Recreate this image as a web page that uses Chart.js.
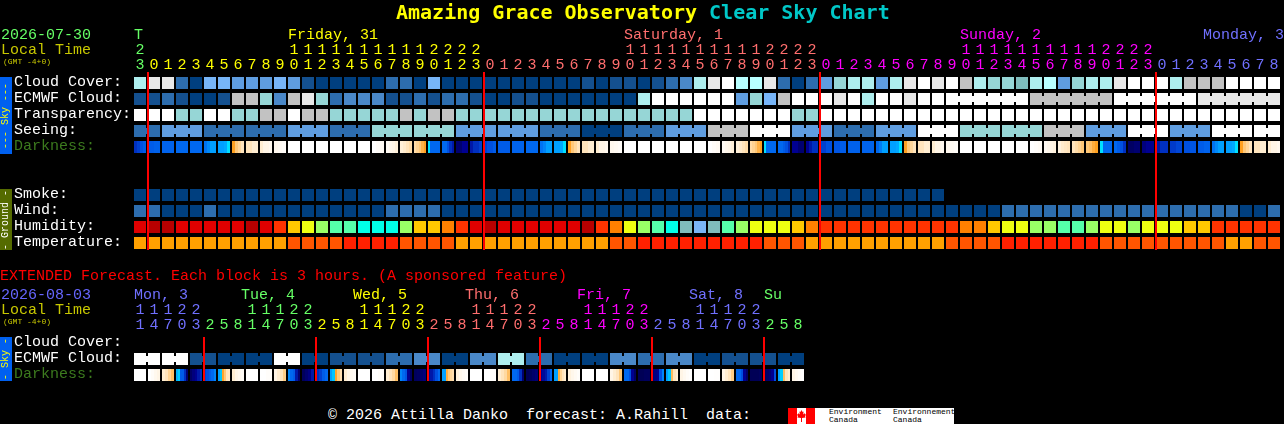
<!DOCTYPE html>
<html>
<head>
<meta charset="utf-8">
<title>Amazing Grace Observatory Clear Sky Chart</title>
<script src="https://cdn.jsdelivr.net/npm/chart.js@4"></script>
<style>
  html, body { margin: 0; padding: 0; background: #000; }
  body { width: 1284px; height: 424px; position: relative; overflow: hidden; }
  body, .t { font-family: "Liberation Mono", monospace; font-size: 15px; }
  canvas { position: absolute; left: 0; }
  #main { top: 0; }
  #ext { top: 270px; }
  .t { position: absolute; white-space: pre; line-height: 16px; }
  .side { position: absolute; left: 0; width: 12px; }
  .side span { position: absolute; left: 6px; top: 50%; transform: translate(-50%, -50%) rotate(-90deg); font-size: 10px; line-height: 10px; white-space: pre; }
</style>
</head>
<body>
<canvas id="main" width="1284" height="254"></canvas>
<canvas id="ext" width="1284" height="115"></canvas>

<div class="t" id="title" style="left:396px;top:0px;font-family:'DejaVu Sans Mono';font-size:20px;line-height:24px;font-weight:bold;color:#ffff00">Amazing Grace Observatory <span style="color:#00c8c8">Clear Sky Chart</span></div>
<div class="t" style="left:1px;top:28px;color:#66ff66">2026-07-30</div>
<div class="t" style="left:1px;top:43px;color:#c8c800">Local Time</div>
<div class="t" style="left:3px;top:57px;font-size:8px;line-height:10px;color:#c8c800">(GMT -4+0)</div>
<div class="side" style="top:77px;height:77px;background:#0060f0;color:#ffff00"><span>--- Sky ---</span></div>
<div class="side" style="top:189px;height:61px;background:#556b00;color:#ffffff"><span>- Ground -</span></div>
<div class="t" style="left:0;top:269px;color:#ff0000">EXTENDED Forecast. Each block is 3 hours. (A sponsored feature)</div>
<div class="t" style="left:1px;top:288px;color:#6666ff">2026-08-03</div>
<div class="t" style="left:1px;top:303px;color:#c8c800">Local Time</div>
<div class="t" style="left:3px;top:317px;font-size:8px;line-height:10px;color:#c8c800">(GMT -4+0)</div>
<div class="side" style="top:337px;height:44px;background:#0060f0;color:#ffff00"><span>- Sky -</span></div>
<div class="t" style="left:328px;top:408px;color:#ffffff">© 2026 Attilla Danko  forecast: A.Rahill  data:</div>
<div style="position:absolute;left:788px;top:408px;width:166px;height:16px;background:#fff">
  <div style="position:absolute;left:0;top:0;width:9px;height:16px;background:#f00"></div>
  <div style="position:absolute;left:18px;top:0;width:9px;height:16px;background:#f00"></div>
  <svg style="position:absolute;left:9px;top:2px" width="9" height="12" viewBox="0 0 9 12"><path fill="#f00" d="M4.5 0 L5.6 2 L6.6 1.6 L6.2 4.4 L7.6 3.2 L9 5 L8 6 L8.6 7.4 L5 8 L5 12 L4 12 L4 8 L0.4 7.4 L1 6 L0 5 L1.4 3.2 L2.8 4.4 L2.4 1.6 L3.4 2 Z"/></svg>
  <div class="t" style="left:41px;top:0;font-size:8px;line-height:8px;color:#000">Environment
Canada</div>
  <div class="t" style="left:105px;top:0;font-size:8px;line-height:8px;color:#000">Environnement
Canada</div>
</div>

<script>
// hour of each column, hourly chart then the 3 hourly one
var hours = ["23","0","1","2","3","4","5","6","7","8","9","10","11","12","13","14","15","16","17","18","19","20","21","22","23",
  "0","1","2","3","4","5","6","7","8","9","10","11","12","13","14","15","16","17","18","19","20","21","22","23",
  "0","1","2","3","4","5","6","7","8","9","10","11","12","13","14","15","16","17","18","19","20","21","22","23",
  "0","1","2","3","4","5","6","7","8"];
var extHours = ["11","14","17","20","23",
  "2","5","8","11","14","17","20","23",
  "2","5","8","11","14","17","20","23",
  "2","5","8","11","14","17","20","23",
  "2","5","8","11","14","17","20","23",
  "2","5","8","11","14","17","20","23",
  "2","5","8"];

var rowNames = ["Cloud Cover:","ECMWF Cloud:","Transparency:","Seeing:","Darkness:","","","Smoke:","Wind:","Humidity:","Temperature:"];
var extRowNames = ["Cloud Cover:","ECMWF Cloud:","Darkness:"];
var dayNames = ["T","Friday, 31","Saturday, 1","Sunday, 2","Monday, 3"];
var extDayNames = ["Mon, 3","Tue, 4","Wed, 5","Thu, 6","Fri, 7","Sat, 8","Su"];

// colour class of each block, see skyColors
var cloudCover = [8,11,11,2,0,5,5,4,4,4,5,4,1,0,0,0,0,0,2,2,0,5,0,0,0,0,0,0,0,0,0,0,1,0,1,1,0,1,2,3,8,11,12,9,9,11,2,0,2,4,7,8,8,4,8,11,12,11,12,10,8,7,7,6,8,9,4,7,8,8,11,12,12,12,8,10,10,10,12,12,12,12];
var ecmwfCloud = [1,1,2,1,0,0,1,10,10,7,3,10,11,7,2,3,3,3,1,1,2,1,2,2,1,0,0,1,1,0,0,0,0,0,0,0,8,12,12,12,12,12,12,4,7,5,10,12,12,12,11,12,8,12,12,11,12,12,12,12,12,12,12,12,10,10,10,10,10,10,12,12,12,12,12,12,11,11,11,11,11,11];
var transparency = [12,12,12,7,7,12,12,7,7,10,10,12,10,10,7,7,7,7,7,10,7,10,10,7,7,7,7,7,7,7,7,7,7,7,7,7,7,7,7,7,12,12,12,12,12,12,12,7,7,12,12,12,12,12,12,12,12,12,12,12,12,12,12,12,12,12,12,12,12,12,12,12,12,12,12,12,12,12,12,12,12,12];
var seeing = [2,2,4,4,4,2,2,2,2,2,2,4,4,4,2,2,2,7,7,7,7,7,7,4,4,4,4,4,4,2,2,2,0,0,0,2,2,2,4,4,4,10,10,10,12,12,12,4,4,4,2,2,2,4,4,4,12,12,12,7,7,7,7,7,7,10,10,10,4,4,4,12,12,12,4,4,4,12,12,12,12,12];
var smoke = [0,0,0,0,0,0,0,0,0,0,0,0,0,0,0,0,0,0,0,0,0,0,0,0,0,0,0,0,0,0,0,0,0,0,0,0,0,0,0,0,0,0,0,0,0,0,0,0,0,0,0,0,0,0,0,0,0,0];
var wind = [2,2,0,0,0,2,0,0,0,0,0,0,0,0,0,0,0,0,2,2,2,2,0,0,0,0,0,0,0,0,0,0,0,0,0,0,0,0,0,0,0,0,0,0,0,0,0,0,0,0,0,0,0,0,0,0,0,0,0,0,0,0,2,2,2,2,2,2,2,2,2,2,2,2,2,2,2,2,2,0,0,2];
var humidity = [1,0,0,1,1,1,1,1,0,1,2,4,5,6,7,7,8,8,8,6,4,4,3,2,1,0,1,1,1,1,1,1,0,2,3,5,6,7,8,9,10,9,7,6,5,5,5,4,3,2,2,2,2,2,2,2,2,2,2,3,3,4,5,5,6,6,7,7,6,5,5,6,5,5,5,4,4,2,2,2,2,2];
var temperature = [0,0,0,0,0,0,0,0,0,0,0,1,1,1,1,2,2,2,2,1,1,1,1,0,0,0,0,0,0,0,0,0,0,0,1,1,2,2,2,2,2,2,2,2,2,1,1,1,0,0,0,0,0,0,0,0,0,0,1,1,1,1,2,2,2,2,2,2,2,1,1,1,1,1,1,1,1,1,0,0,1,1];
// darkness readings across each block, 0 is daylight and 10 is full night
var darkness = [[8,7.5,7,6.5],[6.5,6.3],[6.2],[6],[6],[5.8,5.4,5,5],[5,5,4.9,4.3],[3.9,3,2.5,2],[2,2,1.5,1.5],[1.5,1,1,0.7],[0.7,0.5,0.3],[0],[0],[0],[0],[0],[0],[0,0.3,0.5],[0.5,0.8,1,1.3],[1.3,1.6,2,2.3],[2.3,2.6,3,3.5,3.9],
  [4.3,6,6,6,6],[6,6,7,8,8.5],[9.5,9.5,9,9],[8.5,8,8,7.5],[7.5,7,7,6.5],[6.5,6.5],[6.2],[6],[5.8,5.5,5,5],[5,5,4.9,4.3],[3.9,3,2.5,2],[2,2,1.5,1.5],[1.5,1,1,0.7],[0.7,0.5,0.3],[0],[0],[0],[0],[0],[0],[0,0.3,0.5],[0.5,0.8,1,1.3],[1.3,1.6,2,2.3],[2.3,2.6,3,3.5,3.9],
  [4.3,6,6,6,6],[6,6,6.5,7,8],[9,9,9.5,9.5],[9,8.5,8,8],[7.5,7],[6.8,6.5],[6.3],[6.2],[6,5.6,5,5],[5,5,4.9,4.3],[3.9,3,2.5,2],[2,2,1.5,1.5],[1.5,1,1,0.7],[0.7,0.5,0.3],[0],[0],[0],[0],[0],[0,0.2,0.4],[0.5,0.8,1,1.2],[1.2,1.6,1.8,2],[2,2.3,2.6,3],[3,3.2,3.6,3.9],
  [4.3,6,6,6],[6,6.5,7,8],[9.7,9.7,9.5,9.5],[9.3,9,9],[8.5,8,8],[7.7,7.3],[7,6.8],[6.5,6.2],[5.8,5.4,5,5],[5,5,4.9,4.3],[3.9,3,2.5,2],[2,2,1.5,1.5],[1.5,1,1,0.7]];

var extCloud = [12,12,12,12,1,1,0,0,0,0,12,12,0,0,1,1,1,1,2,2,3,3,0,0,3,3,8,8,2,2,0,0,0,0,3,3,2,2,3,3,0,0,1,1,1,1,0,0];
var extDarkness = [[0],[0,0.3,0.7,1],[1.5,2,2.6,3.2],[4.8,4.5,6.5,6.5,8,9.5],[9.7,9.3,9,8.5,8],[7.5,7,6.5,6,5.5],[5,4.6,3.8,3,2,1.8],[1.5,1,0.7,0.4],
  [0],[0,0.2],[1,1.5,2,2.8],[5.5,6,6.5,8.5,9.5],[9.8,9.5,9.2,8.5],[8,7.5,6.5,6],[5,4.6,3.8,3,2.2],[1.5,1,0.6,0.4],
  [0],[0,0.2],[1.5,2,2.4,3.2],[5.5,6,6.8,9,9.7],[9.8,9.7,9.5,9.3],[8.8,8.5,8,7,6],[5,5,3.6,3,2.5,2.2],[1.2,0.8,0.5,0.3],
  [0],[0,0.2],[1.5,2,2.4,3.2],[6,6,6.5,8,9.5],[9.9,9.8,9.6,9.4],[9,8.8,8.5,7.5,6],[5,5,3.6,2.6,2,1.5],[1.2,0.8,0.5,0.2],
  [0],[0],[1,1.5,2,3],[6,6,7,9,9.7],[9.9,9.9,9.8,9.8],[9.5,9.2,9,7,5.5],[5,4.6,3.3,2,1.5],[1,0.6,0.3,0.1],
  [0],[0,0.1],[1,1.5,2,2.8],[6,6,7,9,9.7],[9.9,9.9,9.9,9.8],[9.8,9.6,9.4,9,7],[5,4.5,3.2,2,1.5],[1,0.6,0.3,0.1]];

// blocks joined together, as run lengths from the left
var seeingRuns = [2,3,3,3,3,3,3,3,3,3,3,3,3,3,3,3,3,3,3,3,3,3,3,3,3,3,3,2];
var ecmwfRuns = [1,1,1,1,1,1,1,1,1,1,1,1,1,1,1,1,1,1,1,1,1,1,1,1,1,1,1,1,1,1,1,1,1,1,1,1,1,1,1,1,1,1,1,1,1,1,1,1,1,1,1,1,1,1,1,1,1,1,6,6,6,6];
var extRuns = [2,2,2,2,2,2,2,2,2,2,2,2,2,2,2,2,2,2,2,2,2,2,2,2];

var midnights = [1,25,49,73];
var extMidnights = [5,13,21,29,37,45];

var skyColors = ["#003f7f","#14508f","#2d6dae","#4a88c8","#5f9de0","#77b5f8","#7fbcbc","#96d6d6","#aeeeee","#b8ffff","#c2c2c2","#e8e8e8","#ffffff"];
var humidColors = ["#b80000","#e00000","#ff3300","#ff8000","#ffc800","#eeff11","#99ff66","#55ffaa","#00ffe8","#80bcbc","#7ab5f5"];
var tempColors = ["#ffa000","#ff5500","#ff2000"];
var dayColors = ["#66ff66","#ffff00","#ff6e6e","#ff00ff","#7070ff"];
var extDayColors = ["#7070ff","#66ff66","#ffff00","#ff6e6e","#ff00ff","#7070ff","#66ff66"];
var font = "Liberation Mono";

function darkColor(v) {
  var stops = [[0,[255,255,255]],[1,[255,245,230]],[2,[255,228,188]],[3,[255,200,120]],[3.9,[255,160,32]],
    [4.3,[0,224,255]],[5,[0,160,255]],[6,[0,104,240]],[7,[0,80,224]],[8,[0,48,192]],[9,[0,0,144]],[10,[0,0,80]]];
  for (var i = 1; i < stops.length; i++) {
    if (v <= stops[i][0]) {
      var f = (v - stops[i-1][0]) / (stops[i][0] - stops[i-1][0]);
      var a = stops[i-1][1], b = stops[i][1];
      return "rgb(" + Math.round(a[0]+(b[0]-a[0])*f) + "," + Math.round(a[1]+(b[1]-a[1])*f) + "," + Math.round(a[2]+(b[2]-a[2])*f) + ")";
    }
  }
  return "rgb(0,0,80)";
}

// hard edged bands, the way the real chart paints its darkness blocks
function darkBands(ctx, bands) {
  var x = ctx.chart.scales.x.getPixelForValue(ctx.dataIndex);
  // scales have no size yet the first time options get resolved
  if (bands.length == 1 || !isFinite(x)) return darkColor(bands[0]);
  var g = ctx.chart.ctx.createLinearGradient(x - 6, 0, x + 6, 0);
  for (var i = 0; i < bands.length; i++) {
    g.addColorStop(i / bands.length, darkColor(bands[i]));
    g.addColorStop((i + 1) / bands.length, darkColor(bands[i]));
  }
  return g;
}

function row(y, values, colors) {
  return {
    data: values.map(function(v) { return [y - 0.375, y + 0.375]; }),
    backgroundColor: function(ctx) { return ctx.dataIndex === undefined ? "#000" : colors[values[ctx.dataIndex]]; }
  };
}

function darkRow(y, values) {
  return {
    data: values.map(function(v) { return [y - 0.375, y + 0.375]; }),
    backgroundColor: function(ctx) { return ctx.dataIndex === undefined ? "#000" : darkBands(ctx, values[ctx.dataIndex]); }
  };
}

function colorOfColumn(i, breaks, colors) {
  var n = 0;
  for (var k = 0; k < breaks.length; k++) if (i >= breaks[k]) n++;
  return colors[n];
}

// date headings, red midnight lines and the necks joining blocks
var decor = {
  id: "decor",
  afterDatasetsDraw: function(chart, args, o) {
    var c = chart.ctx, x = chart.scales.x, y = chart.scales.y;
    c.save();
    o.joins.forEach(function(j) {
      var ds = chart.data.datasets[j.dataset], col = 0;
      j.runs.forEach(function(len) {
        for (var k = 0; k < len - 1; k++) {
          c.fillStyle = ds.backgroundColor({dataIndex: col + k, chart: chart});
          c.fillRect(x.getPixelForValue(col + k) + 6, y.getPixelForValue(j.row) - 3, 2, 6);
        }
        col += len;
      });
    });
    c.fillStyle = "#ff0000";
    o.lines.forEach(function(col) {
      c.fillRect(x.getPixelForValue(col) - 7, chart.chartArea.top + o.lineTop, 2, chart.chartArea.height + o.lineGrow);
    });
    c.font = "15px '" + font + "'";
    c.textBaseline = "middle";
    c.textAlign = "left";
    o.days.forEach(function(name, i) {
      c.fillStyle = o.dayColors[i];
      c.fillText(name, x.getPixelForValue(o.dayCols[i]) - 6, chart.chartArea.top - 40);
    });
    c.restore();
  }
};

function makeChart(id, labels, names, datasets, breaks, colors, decorOpts, rightPad, bottomPad, axisHeight) {
  return new Chart(document.getElementById(id), {
    type: "bar",
    data: { labels: labels, datasets: datasets },
    plugins: [decor],
    options: {
      responsive: false,
      animation: false,
      devicePixelRatio: 1,
      layout: { padding: { left: 14, right: rightPad, top: 0, bottom: bottomPad } },
      datasets: { bar: { barThickness: 12, grouped: false, inflateAmount: 0, borderWidth: 0 } },
      plugins: { legend: { display: false }, tooltip: { enabled: false }, decor: decorOpts },
      scales: {
        x: {
          position: "top",
          grid: { display: false, drawTicks: false },
          border: { display: false },
          afterFit: function(a) { a.height = axisHeight; a.paddingLeft = 0; a.paddingRight = 0; },
          ticks: {
            autoSkip: false, maxRotation: 0, minRotation: 0, padding: 2,
            font: { family: font, size: 15, lineHeight: 1 },
            color: function(ctx) { return colorOfColumn(ctx.index, breaks, colors); },
            callback: function(v) {
              var h = this.getLabelForValue(v);
              return h.length > 1 ? [h.charAt(0), h.charAt(1)] : [" ", h];
            }
          }
        },
        y: {
          type: "linear",
          reverse: true,
          min: -0.5,
          max: names.length - 0.5,
          grid: { display: false, drawTicks: false },
          border: { display: false },
          // labels sit one pixel above the middle of their row
          afterBuildTicks: function(a) { a.ticks = names.map(function(n, i) { return { value: i - 0.0625 }; }); },
          afterFit: function(a) { a.width = 119; a.paddingTop = 0; a.paddingBottom = 0; },
          ticks: {
            autoSkip: false, crossAlign: "far", padding: 0,
            font: { family: font, size: 15 },
            color: function(ctx) { return names[ctx.index] == "Darkness:" ? "#3c7a1e" : "#ffffff"; },
            callback: function(v) { return names[Math.round(v)]; }
          }
        }
      }
    }
  });
}

makeChart("main", hours, rowNames, [
  row(0, cloudCover, skyColors),
  row(1, ecmwfCloud, skyColors),
  row(2, transparency, skyColors),
  row(3, seeing, skyColors),
  darkRow(4, darkness),
  row(7, smoke, skyColors),
  row(8, wind, skyColors),
  row(9, humidity, humidColors),
  row(10, temperature, tempColors)
], midnights, dayColors, {
  lines: midnights, lineTop: -3, lineGrow: 2,
  joins: [{ dataset: 1, row: 1, runs: ecmwfRuns }, { dataset: 3, row: 3, runs: seeingRuns }],
  days: dayNames, dayColors: dayColors, dayCols: [0, 11, 35, 59, 76.36]
}, 3, 3, 75);

makeChart("ext", extHours, extRowNames, [
  row(1, extCloud, skyColors),
  darkRow(2, extDarkness)
], extMidnights, extDayColors, {
  lines: extMidnights, lineTop: 2, lineGrow: -4,
  joins: [{ dataset: 0, row: 1, runs: extRuns }],
  days: extDayNames, dayColors: extDayColors, dayCols: [0, 7.64, 15.64, 23.64, 31.64, 39.64, 45]
}, 479, 2, 65);
</script>
</body>
</html>
